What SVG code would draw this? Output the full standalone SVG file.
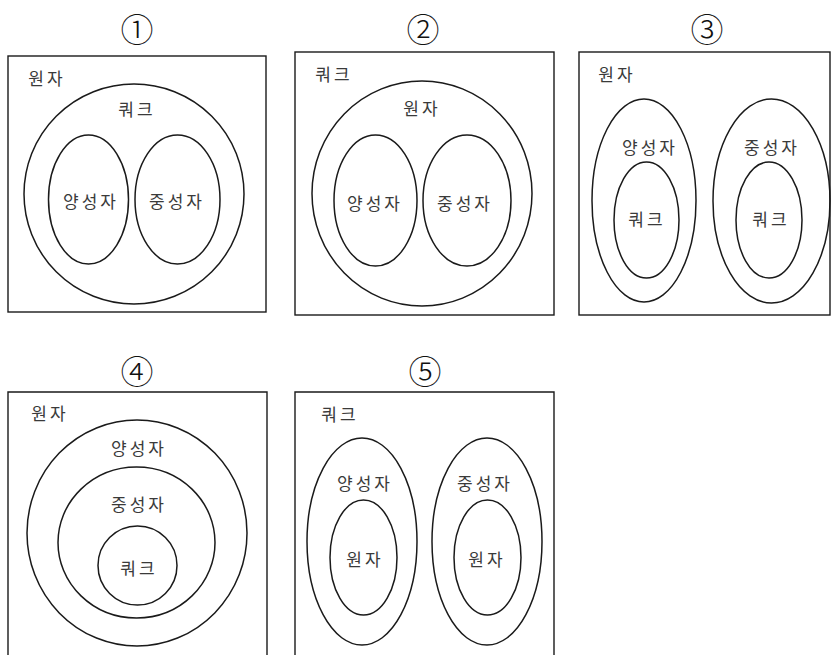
<svg xmlns="http://www.w3.org/2000/svg" width="832" height="655" viewBox="0 0 832 655">
<style>
.box{fill:none;stroke:#1a1a1a;stroke-width:1.4}
.e{fill:none;stroke:#1a1a1a;stroke-width:1.5}
.t{font-family:"Noto Sans CJK KR","Noto Sans",sans-serif;font-size:17px;fill:#3a3a3a;text-anchor:middle;dominant-baseline:central;letter-spacing:3px}
.n{font-family:"Noto Sans CJK KR","DejaVu Sans",sans-serif;font-size:33px;font-weight:300;fill:#111;text-anchor:middle;dominant-baseline:central}
</style>
<rect width="832" height="655" fill="#fff"/>
<g id="panel1">
<text class="n" x="137" y="28">①</text>
<rect class="box" x="8" y="56" width="258" height="256"/>
<text class="t" x="47" y="77">원자</text>
<ellipse class="e" cx="134" cy="194" rx="110" ry="110"/>
<text class="t" x="137" y="108">쿼크</text>
<ellipse class="e" cx="88.5" cy="199.5" rx="40" ry="64.5"/>
<text class="t" x="91" y="200">양성자</text>
<ellipse class="e" cx="177.5" cy="199.5" rx="42.5" ry="64.5"/>
<text class="t" x="177" y="200">중성자</text>
</g>
<g id="panel2">
<text class="n" x="423" y="28">②</text>
<rect class="box" x="295" y="52" width="259" height="263"/>
<text class="t" x="334" y="73">쿼크</text>
<ellipse class="e" cx="422" cy="193.5" rx="110" ry="112.5"/>
<text class="t" x="422" y="107">원자</text>
<ellipse class="e" cx="375.5" cy="200.5" rx="41.5" ry="65.5"/>
<text class="t" x="375" y="202">양성자</text>
<ellipse class="e" cx="467" cy="200.5" rx="44" ry="65.5"/>
<text class="t" x="465" y="202">중성자</text>
</g>
<g id="panel3">
<text class="n" x="707" y="28">③</text>
<rect class="box" x="579" y="52" width="251" height="263"/>
<text class="t" x="617" y="73">원자</text>
<ellipse class="e" cx="644" cy="200.5" rx="52" ry="101.5"/>
<text class="t" x="650" y="146">양성자</text>
<ellipse class="e" cx="646.5" cy="220" rx="32.5" ry="58"/>
<text class="t" x="647" y="218">쿼크</text>
<ellipse class="e" cx="771.5" cy="201" rx="58.5" ry="102"/>
<text class="t" x="772" y="146">중성자</text>
<ellipse class="e" cx="769" cy="220" rx="33" ry="58"/>
<text class="t" x="771" y="218">쿼크</text>
</g>
<g id="panel4">
<text class="n" x="137" y="370">④</text>
<path class="box" d="M8,656 V392 H267 V656"/>
<text class="t" x="50" y="412">원자</text>
<ellipse class="e" cx="137" cy="533" rx="110" ry="113"/>
<text class="t" x="139" y="447">양성자</text>
<ellipse class="e" cx="136.5" cy="542.5" rx="78.5" ry="75.5"/>
<text class="t" x="139" y="503">중성자</text>
<ellipse class="e" cx="137.5" cy="565.5" rx="39.5" ry="39.5"/>
<text class="t" x="139" y="567">쿼크</text>
</g>
<g id="panel5">
<text class="n" x="425" y="370">⑤</text>
<path class="box" d="M295,656 V392 H554 V656"/>
<text class="t" x="340" y="413">쿼크</text>
<ellipse class="e" cx="362" cy="541.5" rx="55" ry="103.5"/>
<text class="t" x="365" y="482">양성자</text>
<ellipse class="e" cx="363.5" cy="557.5" rx="33.5" ry="57.5"/>
<text class="t" x="365" y="558">원자</text>
<ellipse class="e" cx="487" cy="541.5" rx="55" ry="103.5"/>
<text class="t" x="485" y="482">중성자</text>
<ellipse class="e" cx="487.5" cy="557.5" rx="33.5" ry="57.5"/>
<text class="t" x="487" y="558">원자</text>
</g>
<g id="connectors"/>
</svg>
